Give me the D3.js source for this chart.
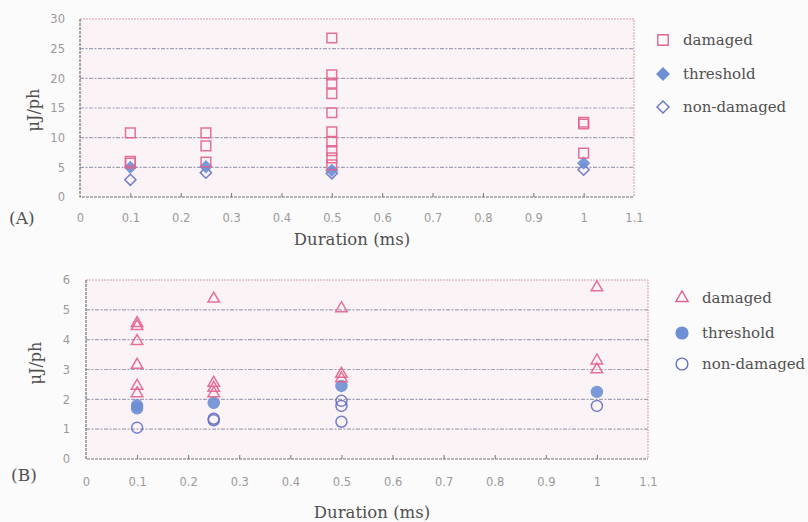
<!DOCTYPE html>
<html>
<head>
<meta charset="utf-8">
<script src="https://cdn.jsdelivr.net/npm/d3@7"></script>
<style>
  body { margin: 0; background: #fcfbfb; }
  svg { display: block; }
  .tick text { font-family: "DejaVu Sans", sans-serif; fill: #9a9a9a; }
  .ttl { font-family: "DejaVu Serif", serif; fill: #505050; }
</style>
</head>
<body>
<div id="graphicContainer"></div>
<script>
// duration (ms), energy (uJ/ph)
var aDamaged = [[0.1, 10.8], [0.1, 6.0], [0.1, 5.7], [0.25, 10.8], [0.25, 8.6], [0.25, 5.9],
  [0.5, 26.8], [0.5, 20.6], [0.5, 19.2], [0.5, 17.4], [0.5, 14.2], [0.5, 11.0], [0.5, 9.3],
  [0.5, 7.8], [0.5, 6.6], [0.5, 5.4], [1, 12.6], [1, 12.3], [1, 7.4]];
var aThreshold = [[0.1, 5.0], [0.25, 5.1], [0.5, 4.5], [1, 5.7]];
var aNonDamaged = [[0.1, 2.9], [0.25, 4.1], [0.5, 4.0], [1, 4.6]];

var bDamaged = [[0.1, 4.55], [0.1, 4.45], [0.1, 3.95], [0.1, 3.15], [0.1, 2.45], [0.1, 2.2],
  [0.25, 5.37], [0.25, 2.55], [0.25, 2.38], [0.25, 2.2], [0.5, 5.05], [0.5, 2.85], [0.5, 2.7],
  [1, 5.75], [1, 3.3], [1, 3.0]];
var bThreshold = [[0.1, 1.8], [0.1, 1.7], [0.25, 1.88], [0.5, 2.45], [1, 2.25]];
var bNonDamaged = [[0.1, 1.05], [0.25, 1.35], [0.25, 1.3], [0.5, 1.95], [0.5, 1.78], [0.5, 1.25], [1, 1.78]];

var xTicks = [0, 0.1, 0.2, 0.3, 0.4, 0.5, 0.6, 0.7, 0.8, 0.9, 1, 1.1];
var aYTicks = [0, 5, 10, 15, 20, 25, 30];
var bYTicks = [0, 1, 2, 3, 4, 5, 6];
var legendLabels = ["damaged", "threshold", "non-damaged"];

var pink = "#e2638c", blueFill = "#6e8fd4", blueLine = "#6670c4";

var svg = d3.select("#graphicContainer").append("svg")
  .attr("width", 808).attr("height", 522);

// speckled paper grain for the plot backgrounds
var defs = svg.append("defs");
var grain = defs.append("filter").attr("id", "grain").attr("x", 0).attr("y", 0).attr("width", 1).attr("height", 1);
grain.append("feTurbulence").attr("type", "fractalNoise").attr("baseFrequency", 1.1).attr("numOctaves", 2).attr("seed", 3);
grain.append("feColorMatrix").attr("values", "0 0 0 0 0.9  0 0 0 0 0.8  0 0 0 0 0.85  1.2 0 0 0 -0.5");
grain.append("feComposite").attr("in2", "SourceGraphic").attr("operator", "in");

function drawPanel(opt) {
  var x = d3.scaleLinear().domain([0, 1.1]).range([opt.left, opt.right]);
  var y = d3.scaleLinear().domain([0, opt.yMax]).range([opt.bottom, opt.top]);
  var g = svg.append("g");

  g.append("rect")
    .attr("x", opt.left).attr("y", opt.top)
    .attr("width", opt.right - opt.left).attr("height", opt.bottom - opt.top)
    .attr("fill", "#fbf4f7");
  g.append("rect")
    .attr("x", opt.left).attr("y", opt.top)
    .attr("width", opt.right - opt.left).attr("height", opt.bottom - opt.top)
    .attr("fill", "#fff").attr("filter", "url(#grain)").attr("opacity", 0.5);

  // gridlines
  g.selectAll(".grid")
    .data(opt.yTicks.filter(function(d) { return d > 0 && d < opt.yMax; }))
    .enter().append("line")
    .attr("x1", opt.left).attr("x2", opt.right)
    .attr("y1", function(d) { return y(d); }).attr("y2", function(d) { return y(d); })
    .attr("stroke", "#8a8ea3").attr("stroke-width", 1.2)
    .attr("stroke-dasharray", "4,1.5,2,1.5").attr("opacity", 0.8);

  // border: top/right pinkish, left/bottom grey
  g.append("path")
    .attr("d", "M" + opt.left + "," + opt.top + "H" + opt.right + "V" + opt.bottom)
    .attr("fill", "none").attr("stroke", "#d49aaa").attr("stroke-dasharray", "2,1");
  g.append("path")
    .attr("d", "M" + opt.left + "," + opt.top + "V" + opt.bottom + "H" + opt.right)
    .attr("fill", "none").attr("stroke", "#6f6f6f").attr("stroke-width", 1.2).attr("stroke-dasharray", "3,1");

  var xAxis = g.append("g")
    .attr("transform", "translate(0," + opt.bottom + ")")
    .call(d3.axisBottom(x).tickValues(xTicks).tickSizeInner(-4).tickSizeOuter(0)
      .tickPadding(opt.xPad).tickFormat(d3.format("~g")));
  xAxis.select(".domain").remove();
  xAxis.selectAll(".tick line").attr("stroke", "#777")
    .attr("opacity", function(d) { return d > 0 && d <= 1 ? 1 : 0; });
  xAxis.selectAll(".tick text").attr("font-size", 11.5);

  var yAxis = g.append("g")
    .attr("transform", "translate(" + opt.left + ",0)")
    .call(d3.axisLeft(y).tickValues(opt.yTicks).tickSize(0).tickPadding(opt.yPad)
      .tickFormat(d3.format("d")));
  yAxis.select(".domain").remove();
  yAxis.selectAll(".tick text").attr("font-size", 11.5);

  g.append("text").attr("class", "ttl")
    .attr("x", opt.titleX).attr("y", opt.titleY)
    .attr("text-anchor", "middle").attr("font-size", 16.5)
    .text("Duration (ms)");
  g.append("text").attr("class", "ttl")
    .attr("transform", "translate(" + opt.yTitleX + "," + opt.yTitleY + ") rotate(-90)")
    .attr("text-anchor", "middle").attr("dy", "0.35em").attr("font-size", 16)
    .text("μJ/ph");
  g.append("text").attr("class", "ttl")
    .attr("x", opt.tagX).attr("y", opt.tagY)
    .attr("dy", "0.35em").attr("font-size", 17)
    .text(opt.tag);

  var sym = opt.symbols;
  var series = [
    { data: opt.damaged, type: sym[0], fill: "none", stroke: pink },
    { data: opt.threshold, type: sym[1], fill: blueFill, stroke: blueFill },
    { data: opt.nonDamaged, type: sym[2], fill: "none", stroke: blueLine }
  ];

  // non-damaged first, damaged on top
  [2, 1, 0].forEach(function(i) {
    var s = series[i];
    g.selectAll(null).data(s.data).enter().append("path")
      .attr("transform", function(d) { return "translate(" + x(d[0]) + "," + y(d[1]) + ")"; })
      .attr("d", d3.symbol().type(s.type.shape).size(s.type.size))
      .attr("fill", s.fill).attr("stroke", s.stroke).attr("stroke-width", 1.5)
      .attr("opacity", 0.9);
  });

  var leg = g.selectAll(".leg").data(series).enter().append("g")
    .attr("transform", function(d, i) { return "translate(" + opt.legX + "," + opt.legY[i] + ")"; });
  leg.append("path")
    .attr("d", function(d) { return d3.symbol().type(d.type.shape).size(d.type.size * 1.15)(); })
    .attr("fill", function(d) { return d.fill; })
    .attr("stroke", function(d) { return d.stroke; })
    .attr("stroke-width", 1.4);
  leg.append("text").attr("class", "ttl")
    .attr("x", 20).attr("dy", "0.35em").attr("font-size", 15)
    .text(function(d, i) { return legendLabels[i]; });
}

var diamond = { shape: d3.symbolDiamond2, size: 80 };

drawPanel({
  left: 80, right: 634, top: 19, bottom: 197, yMax: 30, yTicks: aYTicks,
  xPad: 17, yPad: 15,
  damaged: aDamaged, threshold: aThreshold, nonDamaged: aNonDamaged,
  symbols: [{ shape: d3.symbolSquare2, size: 120 }, diamond, diamond],
  titleX: 352, titleY: 245, yTitleX: 33, yTitleY: 110,
  tag: "(A)", tagX: 9, tagY: 218,
  legX: 663, legY: [40, 74, 107]
});

drawPanel({
  left: 86, right: 648, top: 280, bottom: 459, yMax: 6, yTicks: bYTicks,
  xPad: 19, yPad: 16,
  damaged: bDamaged, threshold: bThreshold, nonDamaged: bNonDamaged,
  symbols: [{ shape: d3.symbolTriangle2, size: 95 }, { shape: d3.symbolCircle, size: 95 },
    { shape: d3.symbolCircle, size: 95 }],
  titleX: 372, titleY: 518, yTitleX: 35, yTitleY: 363,
  tag: "(B)", tagX: 11, tagY: 475,
  legX: 682, legY: [298, 333, 364]
});
</script>
</body>
</html>
